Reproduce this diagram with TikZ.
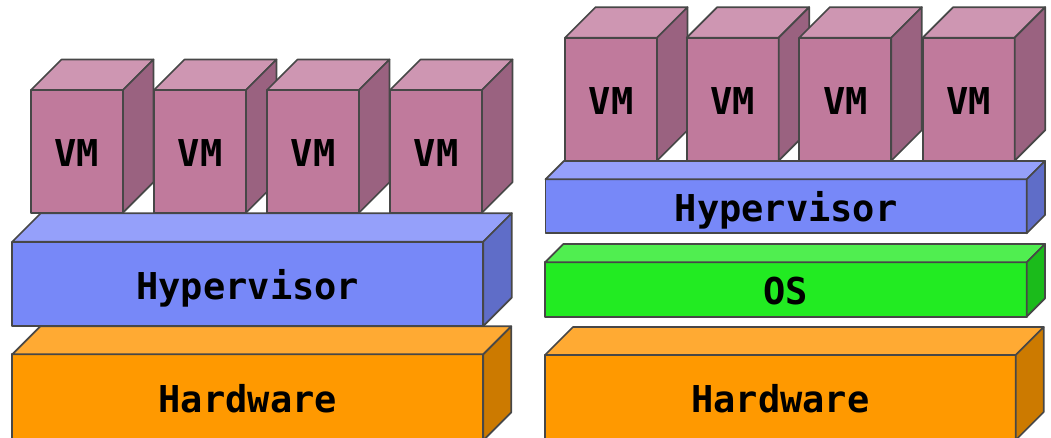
\documentclass[tikz,border=0pt]{standalone}
\usepackage{fontspec}
\setmonofont{DejaVu Sans Mono}
\definecolor{edgec}{HTML}{474747}
\definecolor{vmF}{HTML}{C07A9C}
\definecolor{vmT}{HTML}{CE96B2}
\definecolor{vmS}{HTML}{9A6280}
\definecolor{hvF}{HTML}{7788F8}
\definecolor{hvT}{HTML}{95A0FA}
\definecolor{hvS}{HTML}{5F6DC8}
\definecolor{hwF}{HTML}{FF9900}
\definecolor{hwT}{HTML}{FFAA33}
\definecolor{hwS}{HTML}{CC7A00}
\definecolor{osF}{HTML}{22EB22}
\definecolor{osT}{HTML}{50EE50}
\definecolor{osS}{HTML}{1BBB1B}
\tikzset{
  edge/.style={draw=edgec, line width=1.7pt, line join=round},
  face/.style={edge, rectangle, anchor=north west, inner sep=0pt, outer sep=0pt,
    font=\fontsize{37}{40}\selectfont\ttfamily\bfseries, text height=30.6pt, text depth=0pt}
}
\newcommand\slab[8]{%
  \node[face, fill=#7F, minimum width=#4pt, minimum height=#5pt] (#1) at (#2,#3) {#8};
  \draw[edge, fill=#7T] (#1.north west) -- ++(#6,-#6) -- ++(#4,0) -- (#1.north east) -- cycle;
  \draw[edge, fill=#7S] (#1.north east) -- ++(#6,-#6) -- ++(0,#5) -- (#1.south east) -- cycle;
}
\begin{document}
\begin{tikzpicture}[x=1pt,y=-1pt]
\useasboundingbox (0,0) rectangle (1051,438);
\clip (0,0) rectangle (1051,438);
% left stack
\slab{lhw}{12.3}{354.3}{471}{86}{28}{hw}{Hardware}
\slab{lhv}{12.3}{241.7}{471}{84.3}{28.5}{hv}{Hypervisor}
\slab{lvma}{31}{90}{92}{122.7}{30.5}{vm}{VM}
\slab{lvmb}{154}{90}{92}{122.7}{30.5}{vm}{VM}
\slab{lvmc}{267}{90}{92}{122.7}{30.5}{vm}{VM}
\slab{lvmd}{390}{90}{92}{122.7}{30.5}{vm}{VM}
% right stack
\slab{rhw}{545}{355}{470.7}{85}{28}{hw}{Hardware}
\slab{ros}{545}{262.3}{481.7}{54.4}{18.3}{os}{OS}
\slab{rhv}{545.5}{179.3}{481.2}{54}{18.3}{hv}{Hypervisor}
\slab{rvma}{565}{37.7}{92}{123}{30.5}{vm}{VM}
\slab{rvmb}{686.7}{37.7}{92}{123}{30.5}{vm}{VM}
\slab{rvmc}{799.3}{37.7}{92}{123}{30.5}{vm}{VM}
\slab{rvmd}{922.7}{37.7}{92}{123}{30.5}{vm}{VM}
\end{tikzpicture}
\end{document}
